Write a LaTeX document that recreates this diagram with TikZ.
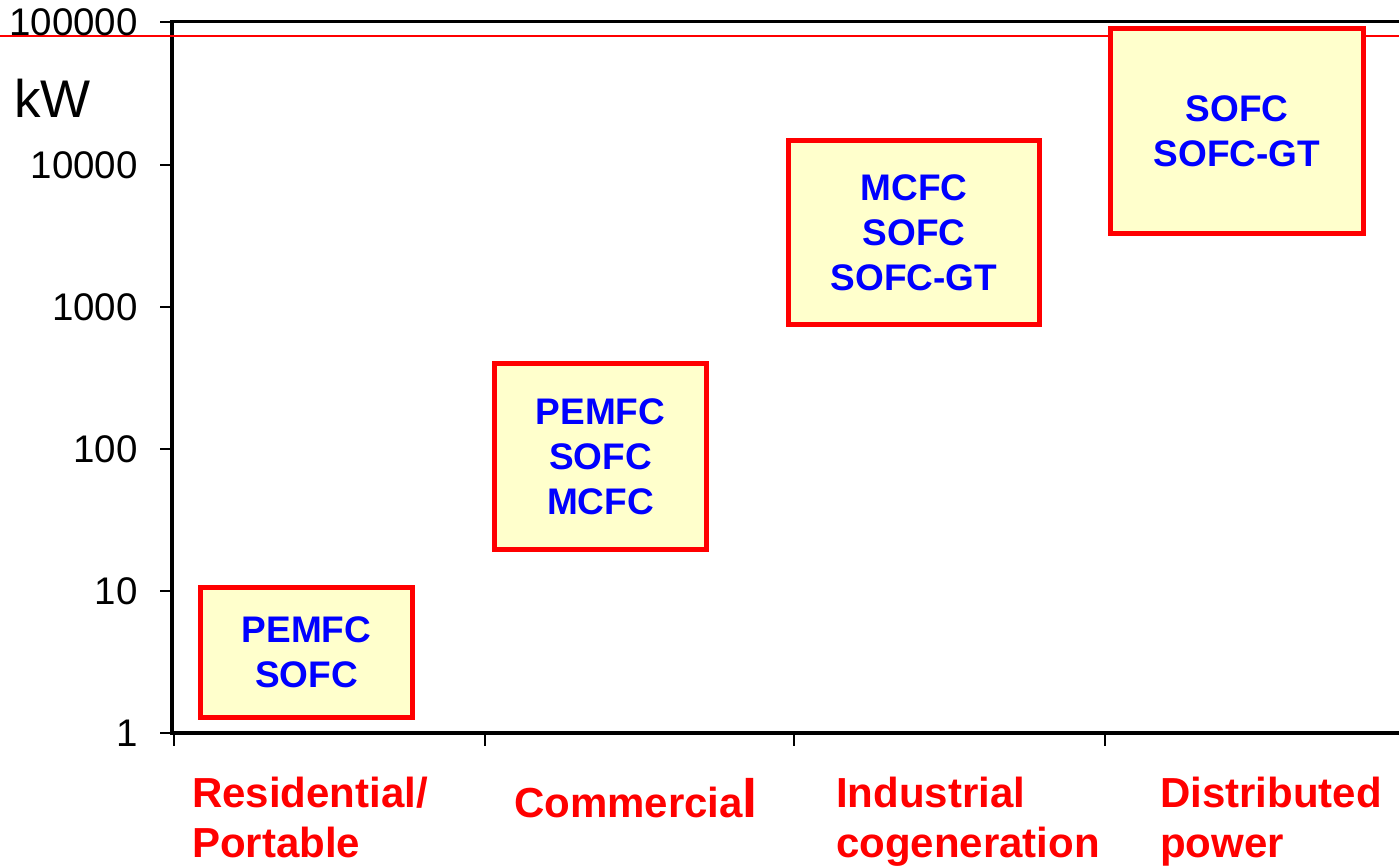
\documentclass[tikz,border=0pt]{standalone}
\usepackage{fontspec}
\setmainfont{Liberation Sans}
\definecolor{boxyellow}{HTML}{FFFFCC}
\definecolor{pure red}{HTML}{FF0000}
\definecolor{pure blue}{HTML}{0000FF}
\begin{document}
\begin{tikzpicture}[x=1pt,y=-1pt,
  fcbox/.style={draw=pure red,line width=5pt,fill=boxyellow,text=pure blue,
    font=\fontsize{37}{45}\selectfont\bfseries,align=center,inner sep=0pt},
  ticklab/.style={font=\fontsize{38.5}{40}\selectfont,anchor=east,inner sep=0pt},
  catlab/.style={text=pure red,font=\fontsize{42}{50}\selectfont\bfseries,
    align=left,anchor=base west,inner sep=0pt},
  axisline/.style={line width=3.5pt,line cap=rect},
  tickline/.style={line width=1.5pt}]
\useasboundingbox (0,0) rectangle (1399,865);
% axes and frame
\coordinate (topright) at (1399,21.5);
\coordinate (origin) at (172,733);
\coordinate (botright) at (1399,733);
\draw[axisline] (topright) -- (origin |- topright) -- (origin) -- (botright);
% red reference line
\coordinate (rl) at (0,36);
\coordinate (rr) at (1399,36);
\draw[pure red,line width=1.8pt] (rl) -- (rr);
% y ticks and labels
\foreach \v/\y in {1/733,10/591,100/449,1000/307,10000/165,100000/22}{
  \coordinate (ya\v) at (160,\y);
  \coordinate (yb\v) at (172,\y);
  \draw[tickline] (ya\v) -- (yb\v);
  \node[ticklab] (yl\v) at (138,\y) {\v};
}
\node[font=\fontsize{53}{56}\selectfont,anchor=base west,inner sep=0pt] (unit) at (14,117) {kW};
% x ticks
\foreach \i/\x in {1/174,2/485,3/794,4/1105}{
  \coordinate (xa\i) at (\x,733);
  \coordinate (xb\i) at (\x,746);
  \draw[tickline] (xa\i) -- (xb\i);
}
% boxes
\node[fcbox,minimum width=212pt,minimum height=130pt] (res) at (306.5,652.5) {PEMFC\\SOFC};
\node[fcbox,minimum width=212pt,minimum height=186pt] (com) at (600.5,456.5) {PEMFC\\SOFC\\MCFC};
\node[fcbox,minimum width=251pt,minimum height=184pt] (ind) at (914,232.5) {MCFC\\SOFC\\SOFC-GT};
\node[fcbox,minimum width=253pt,minimum height=205pt] (dis) at (1237,131) {SOFC\\SOFC-GT};
% category labels (anchored at the baseline of their last line)
\node[catlab] (cres) at (192,857) {Residential/\\Portable};
\node[catlab] (ccom) at (514,817) {Commercia{\fontsize{54}{56}\selectfont l}};
\node[catlab] (cind) at (836,857) {Industrial\\cogeneration};
\node[catlab] (cdis) at (1160,857) {Distributed\\power};
\end{tikzpicture}
\end{document}
